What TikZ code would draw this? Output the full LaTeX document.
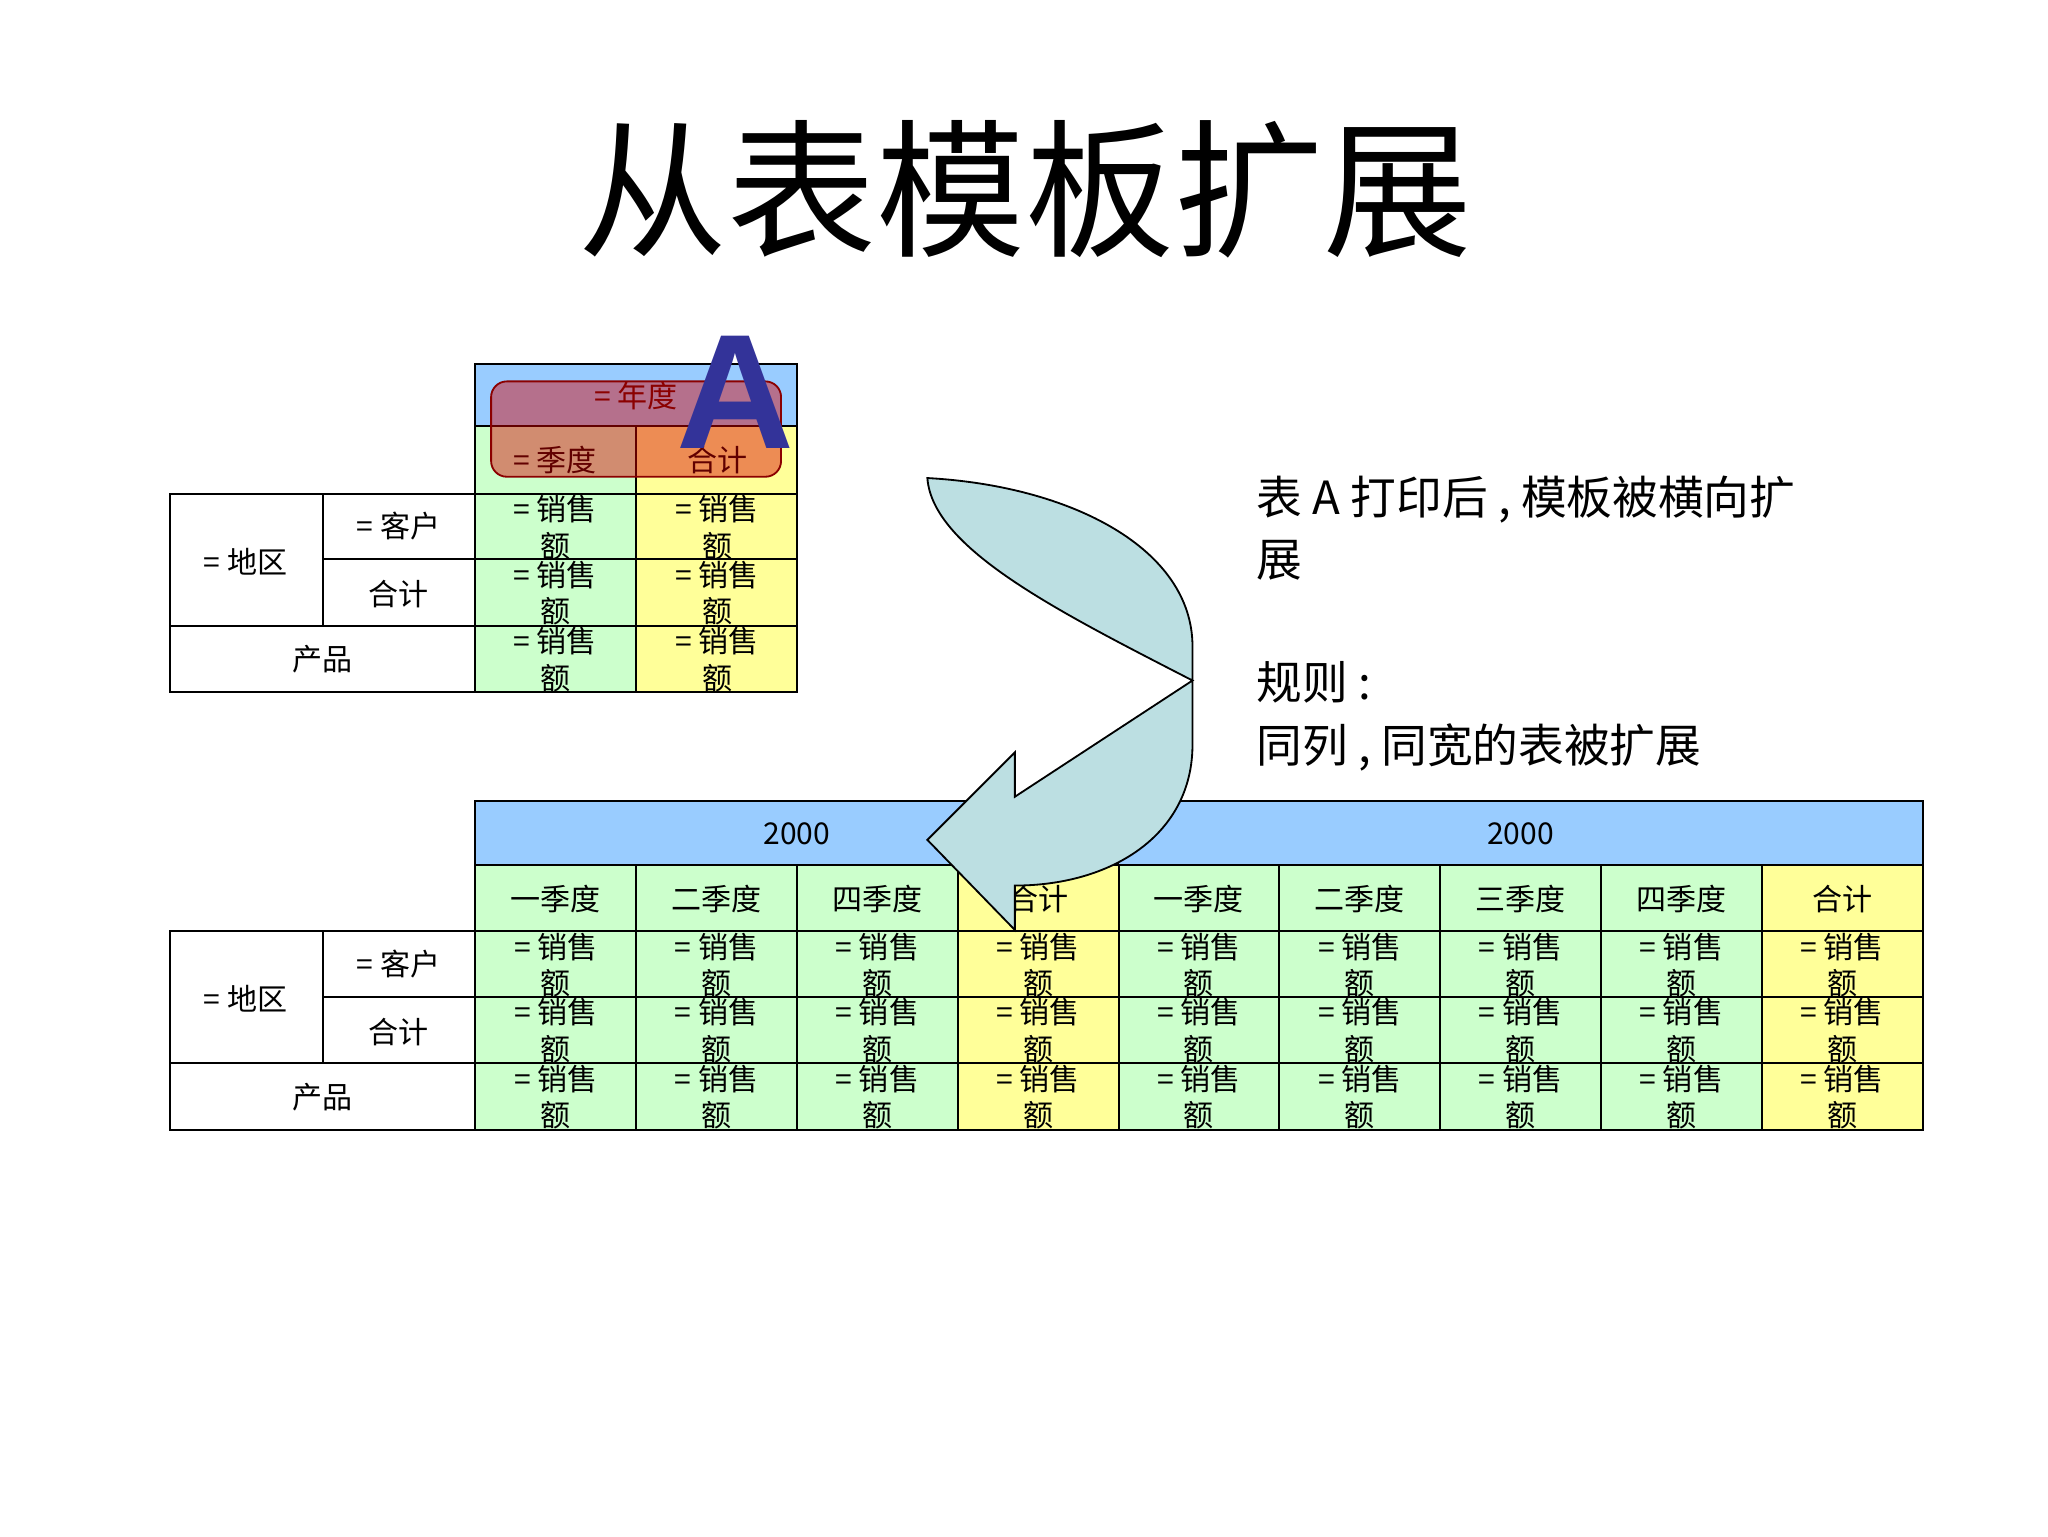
\documentclass[tikz,border=0pt]{standalone}
\usepackage{fontspec}
\setmainfont{Noto Sans CJK SC}
\newfontfamily\latinA{Liberation Sans}
\usetikzlibrary{calc}
\definecolor{hblue}{HTML}{99CCFF}
\definecolor{cgreen}{HTML}{CCFFCC}
\definecolor{cyellow}{HTML}{FFFF99}
\definecolor{arrowfill}{HTML}{BCDFE2}
\definecolor{bigA}{HTML}{333399}
\definecolor{ovred}{HTML}{8B0000}
\tikzset{
  cell/.style={draw=black,line width=1.6pt},
  ctext/.style={font=\fontsize{23}{26}\selectfont,inner sep=0pt},
}
\begin{document}
\begin{tikzpicture}[x=1pt,y=-1pt]
\useasboundingbox (0,0) rectangle (1568,1176);
\fill[white] (0,0) rectangle (1568,1176);
% title
\node (title) at (785,145) {\fontsize{114}{120}\selectfont 从表模板扩展};
% ---------- top table ----------
\fill[hblue] (364,279) rectangle (610,326);
\fill[cgreen] (364,326) rectangle (487,530);
\fill[cyellow] (487,326) rectangle (610,530);
\draw[cell] (364,279) rectangle (610,530);
\draw[cell] (364,326) -- (610,326);
\draw[cell] (487,326) -- (487,530);
\draw[cell] (130,378) -- (610,378);
\draw[cell] (247,428) -- (610,428);
\draw[cell] (130,479) -- (610,479);
\draw[cell] (130,378) rectangle (364,530);
\draw[cell] (247,378) -- (247,479);
\node[ctext] (tq) at (425,352) {= 季度};
\node[ctext] (tt) at (549,352) {合计};
\node[ctext] (tr) at (188,430) {= 地区};
\node[ctext] (tc) at (305,403) {= 客户};
\node[ctext] (ts) at (305,455) {合计};
\node[ctext] (tp) at (247,505) {产品};
\foreach \x/\nm in {425/a,549/b}{
  \foreach \y/\r in {378/1,428/2,479/3}{
    \node[ctext] (t\nm\r a) at (\x,\y+12) {= 销售};
    \node[ctext] (t\nm\r b) at (\x,\y+40) {额};
  }
}
% overlay
\draw[ovred,line width=1.4pt,fill=red!85!black,fill opacity=0.45,rounded corners=12pt] (376,292) rectangle (598,365);
\node[ctext,text=ovred] (ty) at (487,303) {= 年度};
\node[inner sep=0pt,text=bigA] (A) at (563,300) {\latinA\bfseries\fontsize{125}{125}\selectfont A};
% ---------- bottom table ----------
\fill[hblue] (364,613) rectangle (1472,662);
\foreach \i/\c in {0/cgreen,1/cgreen,2/cgreen,3/cyellow,4/cgreen,5/cgreen,6/cgreen,7/cgreen,8/cyellow}{
  \fill[\c] ({364+123.111*\i},662) rectangle ({364+123.111*(\i+1)},865);
}
\draw[cell] (364,613) rectangle (1472,865);
\draw[cell] (856,613) -- (856,662);
\draw[cell] (364,662) -- (1472,662);
\draw[cell] (130,713) -- (1472,713);
\draw[cell] (247,763) -- (1472,763);
\draw[cell] (130,814) -- (1472,814);
\foreach \i in {1,...,8}{\draw[cell] ({364+123.111*\i},662) -- ({364+123.111*\i},865);}
\draw[cell] (130,713) rectangle (364,865);
\draw[cell] (247,713) -- (247,814);
\node[ctext] (by1) at (610,638) {2000};
\node[ctext] (by2) at (1164,638) {2000};
\node[ctext] (br) at (188,765) {= 地区};
\node[ctext] (bc) at (305,738) {= 客户};
\node[ctext] (bs) at (305,790) {合计};
\node[ctext] (bp) at (247,840) {产品};
\foreach \lab [count=\i from 0] in {一季度,二季度,四季度,合计,一季度,二季度,三季度,四季度,合计}{
  \node[ctext] (bq\i) at ({425.5+123.111*\i},688) {\lab};
  \foreach \y/\r in {713/1,763/2,814/3}{
    \node[ctext] (bd\i\r a) at ({425.5+123.111*\i},\y+12) {= 销售};
    \node[ctext] (bd\i\r b) at ({425.5+123.111*\i},\y+40) {额};
  }
}
% ---------- arrow ----------
\draw[fill=arrowfill,line width=1.4pt,line join=miter]
 (710,366) .. controls (820,372) and (913,420) .. (913,495)
 -- (913,570) .. controls (913,640) and (850,678) .. (777,678)
 -- (777,712) -- (710,643) -- (777,576) -- (777,610) -- (913,521)
 .. controls (810,468) and (714,420) .. (710,366) -- cycle;
% ---------- right text ----------
\node[anchor=north west,align=left,inner sep=0pt,font=\fontsize{35}{48}\selectfont] (note) at (962,364)
 {表 A 打印后 , 模板被横向扩\\展\\[46pt]规则 :\\同列 , 同宽的表被扩展};
\end{tikzpicture}
\end{document}
